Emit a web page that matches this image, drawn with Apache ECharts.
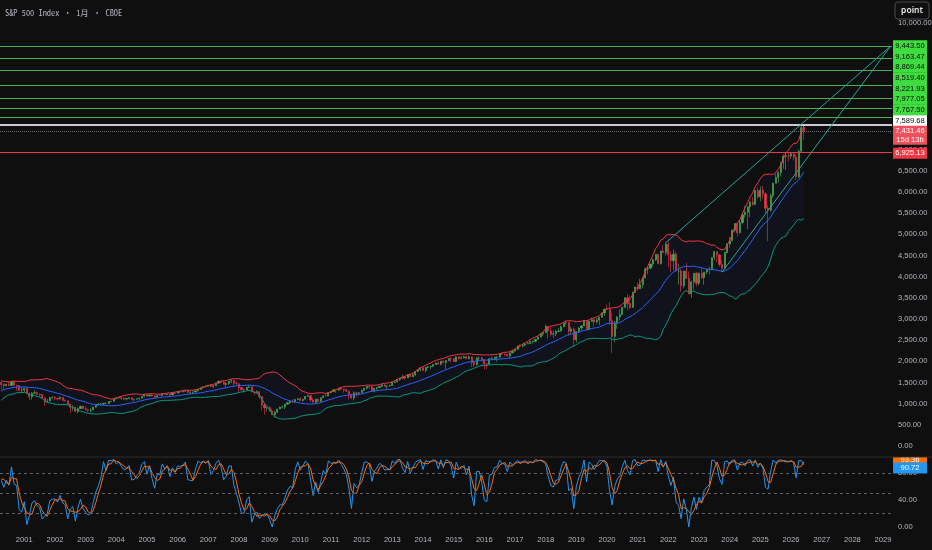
<!DOCTYPE html>
<html><head><meta charset="utf-8">
<script src="https://cdn.jsdelivr.net/npm/echarts@6/dist/echarts.min.js"></script>
<style>html,body{margin:0;padding:0;background:#0f0f0f;overflow:hidden;}#c{width:932px;height:550px;}</style>
</head><body><div id="c"></div>
<script>
// ---------- DATA (monthly OHLC, first month = startMonth) ----------
const startMonth = '1998-08';
const displayStart = '2000-04';
const axisEnd = '2029-04';

const opens = [
1121,957,1017,1099,1164,
1229,1280,1238,1286,1335,1302,1373,1329,1320,1283,1363,1389,
1469,1394,1366,1499,1452,1421,1455,1431,1518,1437,1429,1315,
1320,1366,1240,1160,1249,1256,1224,1211,1134,1041,1060,1139,
1148,1130,1107,1147,1077,1067,990,912,916,815,886,936,
880,856,841,848,917,964,975,990,1008,996,1051,1058,
1112,1131,1145,1126,1107,1121,1141,1102,1104,1115,1130,1174,
1212,1181,1204,1181,1157,1192,1191,1234,1220,1229,1207,1249,
1248,1280,1281,1295,1311,1270,1270,1277,1304,1336,1378,1401,
1418,1438,1407,1421,1482,1531,1503,1455,1474,1527,1549,1481,
1468,1379,1331,1323,1386,1400,1280,1267,1283,1166,969,896,
903,826,735,798,873,919,919,987,1021,1057,1036,1096,
1115,1074,1104,1169,1187,1089,1031,1102,1049,1141,1183,1181,
1258,1286,1327,1326,1364,1345,1321,1292,1219,1131,1253,1247,
1258,1312,1366,1408,1398,1310,1362,1379,1407,1441,1412,1416,
1426,1498,1515,1569,1598,1631,1606,1686,1633,1682,1757,1806,
1848,1783,1859,1872,1884,1924,1960,1931,2003,1972,2018,2068,
2059,1995,2105,2068,2086,2107,2063,2104,1972,1920,2079,2080,
2044,1940,1932,2060,2065,2097,2099,2174,2171,2168,2126,2199,
2239,2279,2364,2363,2384,2412,2423,2470,2472,2519,2575,2648,
2674,2824,2714,2641,2648,2705,2718,2816,2902,2914,2712,2760,
2507,2704,2784,2834,2946,2752,2942,2980,2926,2977,3038,3141,
3231,3226,2954,2585,2912,3044,3100,3271,3500,3363,3270,3622,
3756,3714,3811,3973,4181,4204,4298,4395,4523,4308,4605,4567,
4766,4516,4374,4530,4132,4132,3785,4130,3955,3586,3872,4080,
3840,4077,3970,4109,4169,4180,4450,4589,4508,4288,4194,4568,
4770,4846,5096,5254,5036,5278,5460,5522,5648,5762,5705,6032,
5882,6041,5955,5612,5569,5912,6205,6339,6460,6688,6840,6849,
6845,6900,6820,6360,6960,7520
];
const highs = [
1121,1066,1104,1193,1245,
1285,1283,1316,1362,1368,1375,1421,1353,1352,1368,1407,1473,
1478,1445,1553,1528,1481,1475,1518,1519,1531,1444,1438,1390,
1384,1376,1268,1269,1316,1287,1239,1227,1155,1110,1163,1173,
1177,1131,1173,1147,1107,1070,994,965,925,908,951,954,
935,864,895,924,966,1015,1016,1011,1040,1054,1063,1112,
1155,1159,1164,1151,1128,1146,1141,1110,1131,1142,1188,1218,
1217,1212,1229,1192,1199,1219,1246,1246,1243,1233,1271,1276,
1295,1297,1310,1318,1326,1290,1283,1306,1340,1389,1407,1431,
1441,1461,1438,1498,1535,1540,1556,1504,1538,1576,1553,1523,
1471,1396,1359,1397,1440,1404,1293,1314,1304,1168,1007,918,
944,876,833,878,930,956,996,1040,1081,1102,1114,1131,
1151,1112,1181,1220,1208,1131,1115,1130,1150,1196,1228,1263,
1303,1344,1333,1367,1371,1346,1357,1307,1230,1293,1277,1269,
1333,1378,1420,1423,1415,1363,1392,1427,1475,1470,1434,1448,
1504,1530,1570,1598,1687,1654,1699,1710,1730,1775,1814,1849,
1850,1867,1884,1897,1925,1968,1992,2005,2019,2018,2076,2093,
2072,2120,2118,2126,2135,2130,2133,2113,2021,2094,2117,2104,
2044,1962,2075,2111,2103,2120,2178,2194,2188,2170,2214,2278,
2301,2371,2401,2399,2418,2454,2484,2491,2519,2582,2657,2695,
2873,2836,2801,2718,2742,2791,2848,2917,2941,2940,2815,2800,
2708,2813,2860,2950,2955,2964,3028,3014,3022,3050,3154,3248,
3338,3394,3137,2955,3068,3233,3280,3515,3588,3550,3646,3760,
3870,3950,3983,4219,4238,4302,4430,4538,4546,4608,4743,4808,
4818,4595,4637,4593,4307,4178,4140,4325,4120,3906,4080,4101,
4095,4195,4110,4170,4231,4458,4607,4590,4541,4393,4587,4793,
4932,5111,5265,5264,5342,5524,5670,5651,5768,5879,6044,6100,
6128,6147,5987,5696,5968,6215,6427,6482,6699,6890,6920,6915,
6925.13,6915,6870,7000,7560,7589.68
];
const lows = [
940,939,923,1095,1137,
1205,1211,1226,1282,1281,1277,1328,1268,1268,1233,1343,1387,
1350,1325,1346,1339,1349,1420,1416,1431,1420,1305,1294,1254,
1275,1228,1081,1091,1232,1203,1165,1124,945,1040,1055,1114,
1081,1074,1107,1063,1048,953,776,833,815,768,872,872,
840,807,789,847,902,964,963,960,990,996,1031,1048,
1105,1124,1087,1083,1077,1114,1078,1060,1102,1091,1128,1163,
1164,1180,1171,1137,1146,1188,1183,1201,1205,1169,1202,1245,
1245,1253,1268,1280,1245,1219,1224,1261,1291,1327,1360,1385,
1403,1390,1364,1416,1476,1484,1454,1371,1439,1490,1406,1435,
1270,1317,1257,1323,1373,1272,1200,1248,1107,840,741,815,
805,735,666,784,866,888,869,979,992,1020,1029,1086,
1071,1045,1102,1165,1040,1028,1011,1040,1040,1131,1174,1181,
1257,1283,1249,1299,1312,1258,1282,1101,1114,1075,1159,1202,
1258,1312,1340,1358,1291,1267,1325,1377,1397,1403,1343,1398,
1426,1485,1501,1536,1581,1560,1605,1628,1633,1646,1747,1767,
1770,1737,1834,1815,1862,1915,1930,1905,1964,1821,2001,1973,
1988,1981,2040,2049,2068,2057,2044,1867,1872,1894,2019,1993,
1812,1810,1931,2034,2025,1992,2074,2148,2120,2114,2084,2188,
2239,2271,2322,2329,2353,2405,2407,2417,2446,2519,2557,2605,
2674,2533,2585,2553,2594,2691,2698,2803,2864,2604,2631,2346,
2444,2681,2722,2834,2750,2729,2942,2822,2891,2855,3038,3070,
3215,2855,2192,2447,2767,2966,3100,3271,3210,3234,3270,3617,
3662,3714,3723,3955,4057,4165,4234,4368,4306,4279,4560,4495,
4223,4115,4157,4125,3811,3637,3722,3954,3585,3492,3698,3764,
3794,3943,3809,4049,4048,4167,4385,4335,4238,4104,4194,4546,
4683,4846,5057,4954,5011,5234,5391,5120,5403,5674,5697,5833,
5774,5838,5505,4835,5534,5862,6201,6212,6360,6550,6520,6720,
6780,6740,6280,6330,6930,7230
];
const closes = [
957,1017,1099,1164,1229,
1280,1238,1286,1335,1302,1373,1329,1320,1283,1363,1389,1469,
1394,1366,1499,1452,1421,1455,1431,1518,1437,1429,1315,1320,
1366,1240,1160,1249,1256,1224,1211,1134,1041,1060,1139,1148,
1130,1107,1147,1077,1067,990,912,916,815,886,936,880,
856,841,848,917,964,975,990,1008,996,1051,1058,1112,
1131,1145,1126,1107,1121,1141,1102,1104,1115,1130,1174,1212,
1181,1204,1181,1157,1192,1191,1234,1220,1229,1207,1249,1248,
1280,1281,1295,1311,1270,1270,1277,1304,1336,1378,1401,1418,
1438,1407,1421,1482,1531,1503,1455,1474,1527,1549,1481,1468,
1379,1331,1323,1386,1400,1280,1267,1283,1166,969,896,903,
826,735,798,873,919,919,987,1021,1057,1036,1096,1115,
1074,1104,1169,1187,1089,1031,1102,1049,1141,1183,1181,1258,
1286,1327,1326,1364,1345,1321,1292,1219,1131,1253,1247,1258,
1312,1366,1408,1398,1310,1362,1379,1407,1441,1412,1416,1426,
1498,1515,1569,1598,1631,1606,1686,1633,1682,1757,1806,1848,
1783,1859,1872,1884,1924,1960,1931,2003,1972,2018,2068,2059,
1995,2105,2068,2086,2107,2063,2104,1972,1920,2079,2080,2044,
1940,1932,2060,2065,2097,2099,2174,2171,2168,2126,2199,2239,
2279,2364,2363,2384,2412,2423,2470,2472,2519,2575,2648,2674,
2824,2714,2641,2648,2705,2718,2816,2902,2914,2712,2760,2507,
2704,2784,2834,2946,2752,2942,2980,2926,2977,3038,3141,3231,
3226,2954,2585,2912,3044,3100,3271,3500,3363,3270,3622,3756,
3714,3811,3973,4181,4204,4298,4395,4523,4308,4605,4567,4766,
4516,4374,4530,4132,4132,3785,4130,3955,3586,3872,4080,3840,
4077,3970,4109,4169,4180,4450,4589,4508,4288,4194,4568,4770,
4846,5096,5254,5036,5278,5460,5522,5648,5762,5705,6032,5882,
6041,5955,5612,5569,5912,6205,6339,6460,6688,6840,6849,6845,
6900,6820,6360,6960,7520,7431.46
];

// levels and drawings
const greenLevels = [9443.50, 9163.47, 8869.44, 8519.40, 8221.93, 7977.05, 7767.50];
const whiteLevel = 7589.68;
const redLevel = 6925.13;
const lastPrice = 7431.46;
const countdown = '15d 13h';
const trendLines = [
  { from: ['2021-12', 4800], to: ['2029-04', 9443.50] },
  { from: ['2023-10', 4104], to: ['2029-04', 9443.50] }
];
const stochLevels = [80, 50, 20];
const stochK_last = 90.72;
const stochD_last = 93.36;
const titleText = 'S&P 500 Index • 1月 • CBOE';
const buttonText = 'point';

// ---------- LAYOUT / STYLE (not data) ----------
const AXFONT = "'Liberation Sans Narrow','Liberation Sans',Arial,sans-serif";
const AXSIZE = 7.6;
const greenLabelDy = [-0.3, -1.4, -3.2, -7.3, -9.2, -8.9, -7.0];
const whiteLabelDy = -3.9, lastLabelDy = 4, redLabelDy = 0.6;
const kLabelDy = 2.2, dLabelDy = -4.2;
const BOX_DX = 19.3;

// ---------- helpers ----------
function monthsFrom(start, n) {
  let [y, m] = start.split('-').map(Number); const out = [];
  for (let i = 0; i < n; i++) { out.push(y + '-' + String(m).padStart(2, '0')); m++; if (m > 12) { m = 1; y++; } }
  return out;
}
function monthsBetween(a, b) {
  const out = []; let [y, m] = a.split('-').map(Number); const [by, bm] = b.split('-').map(Number);
  while (y < by || (y === by && m <= bm)) { out.push(y + '-' + String(m).padStart(2, '0')); m++; if (m > 12) { m = 1; y++; } }
  return out;
}
const fmt2 = v => Number(v).toLocaleString('en-US', { minimumFractionDigits: 2, maximumFractionDigits: 2 });

const dataMonths = monthsFrom(startMonth, closes.length);
const off = dataMonths.indexOf(displayStart);
const cats = monthsBetween(displayStart, axisEnd);
const lastIdx = cats.length - 1;

// Bollinger Bands (20, 2)
const BBN = 20;
const bbUp = [], bbMid = [], bbLo = [];
for (let i = 0; i < closes.length; i++) {
  if (i < BBN - 1) { bbUp.push(null); bbMid.push(null); bbLo.push(null); continue; }
  let s = 0; for (let k = i - BBN + 1; k <= i; k++) s += closes[k];
  const mean = s / BBN; let v = 0;
  for (let k = i - BBN + 1; k <= i; k++) v += (closes[k] - mean) ** 2;
  const sd = Math.sqrt(v / BBN);
  bbMid.push(mean); bbUp.push(mean + 2 * sd); bbLo.push(mean - 2 * sd);
}
// Stochastic (14, 1, 3)
const SK = 14, SD = 3;
const kArr = [], dArr = [];
for (let i = 0; i < closes.length; i++) {
  if (i < SK - 1) { kArr.push(null); continue; }
  let hh = -Infinity, ll = Infinity;
  for (let k = i - SK + 1; k <= i; k++) { hh = Math.max(hh, highs[k]); ll = Math.min(ll, lows[k]); }
  kArr.push(hh === ll ? 50 : 100 * (closes[i] - ll) / (hh - ll));
}
for (let i = 0; i < closes.length; i++) {
  if (i < SK - 1 + SD - 1) { dArr.push(null); continue; }
  dArr.push((kArr[i] + kArr[i - 1] + kArr[i - 2]) / 3);
}

const candles = [];
for (let i = off; i < closes.length; i++) candles.push([opens[i], closes[i], lows[i], highs[i]]);
const sl = a => a.slice(off);
const upS = sl(bbUp), midS = sl(bbMid), loS = sl(bbLo);
const bandS = upS.map((u, i) => u - loS[i]);
const kS = sl(kArr), dS = sl(dArr);

// ---------- marks ----------
const levelLines = [];
greenLevels.forEach(v => levelLines.push({ yAxis: v, lineStyle: { color: '#4caf50', width: 1, type: 'solid' } }));
levelLines.push({ yAxis: whiteLevel, lineStyle: { color: '#c9cbd0', width: 2, type: 'solid' } });
levelLines.push({ yAxis: lastPrice, lineStyle: { color: '#6a6d75', width: 1, type: 'dotted' } });
levelLines.push({ yAxis: redLevel, lineStyle: { color: '#f23645', width: 1, type: 'solid' } });
trendLines.forEach(t => levelLines.push([
  { coord: [cats.indexOf(t.from[0]), t.from[1]] },
  { coord: [cats.indexOf(t.to[0]), t.to[1]], lineStyle: { color: '#26a69a', width: 1, type: 'solid' } }
]));

function box(v, text, bg, fg, dy, h) {
  return {
    coord: [lastIdx, v], symbol: 'rect', symbolSize: [34, h || 11], symbolOffset: [BOX_DX, dy],
    itemStyle: { color: bg },
    label: { show: true, position: 'inside', formatter: text, color: fg, fontSize: AXSIZE, fontFamily: AXFONT, lineHeight: 9 }
  };
}
const priceBoxes = [];
greenLevels.forEach((v, i) => priceBoxes.push(box(v, fmt2(v), '#3fdc3f', '#0a0a0a', greenLabelDy[i])));
priceBoxes.push(box(whiteLevel, fmt2(whiteLevel), '#ffffff', '#0a0a0a', whiteLabelDy));
priceBoxes.push(box(lastPrice, fmt2(lastPrice) + '\n' + countdown, '#f0505c', '#ffffff', lastLabelDy, 19));
priceBoxes.push(box(redLevel, fmt2(redLevel), '#f23645', '#ffffff', redLabelDy));

const stochBoxes = [
  box(stochD_last, fmt2(stochD_last), '#ff6d00', '#ffffff', dLabelDy, 10),
  box(stochK_last, fmt2(stochK_last), '#2196f3', '#ffffff', kLabelDy, 11)
];

const noLine = { opacity: 0 };
const chart = echarts.init(document.getElementById('c'), null, { renderer: 'canvas' });
chart.setOption({
  backgroundColor: '#0f0f0f',
  animation: false,
  title: {
    text: titleText, left: 5, top: 8.5, padding: 0,
    textStyle: { color: '#b0b3bb', fontSize: 8.4, fontWeight: 'normal', fontFamily: "'Noto Sans Mono CJK SC','Noto Sans Mono CJK JP','Liberation Mono',monospace" }
  },
  graphic: [
    { type: 'rect', silent: true, shape: { x: 892, y: 450.5, width: 40, height: 6.5 }, style: { fill: '#0f0f0f' }, z: 10 },
    { type: 'line', silent: true, shape: { x1: 0, y1: 457, x2: 932, y2: 457 }, style: { stroke: '#2e2e2e', lineWidth: 1 }, z: 11 },
    { type: 'rect', silent: true, shape: { x: 895, y: 2, width: 34, height: 17, r: 3 }, style: { fill: '#0f0f0f', stroke: '#4a4a4a', lineWidth: 1 }, z: 20 },
    { type: 'text', silent: true, x: 912, y: 10.5, style: { text: buttonText, fill: '#e6e6e6', fontSize: 8.5, fontWeight: 600, fontFamily: "'Noto Sans',sans-serif", align: 'center', verticalAlign: 'middle' }, z: 21 }
  ],
  grid: [
    { left: 0, right: 40, top: 1.3, bottom: 104, outerBoundsMode: 'none', containLabel: false },
    { left: 0, right: 40, top: 459.5, bottom: 23, outerBoundsMode: 'none', containLabel: false }
  ],
  xAxis: [
    { type: 'category', gridIndex: 0, data: cats, boundaryGap: true, axisLine: { show: false }, axisTick: { show: false }, axisLabel: { show: false }, splitLine: { show: false } },
    { type: 'category', gridIndex: 1, data: cats, boundaryGap: true, axisLine: { show: false }, axisTick: { show: false },
      axisLabel: { interval: (i, v) => v.slice(5) === '01', formatter: v => v.slice(0, 4), color: '#b2b5be', fontSize: AXSIZE, fontFamily: AXFONT, margin: 9 },
      splitLine: { show: false } }
  ],
  yAxis: [
    { type: 'value', gridIndex: 0, position: 'right', min: 0, max: 10500, interval: 500,
      axisLine: { show: false }, axisTick: { show: false }, splitLine: { show: false },
      axisLabel: { color: '#b2b5be', fontSize: AXSIZE, fontFamily: AXFONT, margin: 6, showMaxLabel: false, formatter: v => fmt2(v) } },
    { type: 'value', gridIndex: 1, position: 'right', min: 0, max: 100, interval: 40,
      axisLine: { show: false }, axisTick: { show: false }, splitLine: { show: false },
      axisLabel: { color: '#b2b5be', fontSize: AXSIZE, fontFamily: AXFONT, margin: 6, formatter: v => v > 99 ? '' : fmt2(v) } }
  ],
  series: [
    { name: 'bbBase', type: 'line', xAxisIndex: 0, yAxisIndex: 0, data: loS, stack: 'bb', symbol: 'none', lineStyle: noLine, silent: true, z: 1 },
    { name: 'bbFill', type: 'line', xAxisIndex: 0, yAxisIndex: 0, data: bandS, stack: 'bb', symbol: 'none', lineStyle: noLine, areaStyle: { color: 'rgba(41,98,255,0.07)' }, silent: true, z: 1 },
    { name: 'S&P 500', type: 'candlestick', xAxisIndex: 0, yAxisIndex: 0, data: candles, barWidth: 1.6, silent: true, z: 2,
      itemStyle: { color: '#4caf50', color0: '#f23645', borderColor: '#4caf50', borderColor0: '#f23645', borderWidth: 0.6 },
      markLine: { silent: true, symbol: ['none', 'none'], label: { show: false }, data: levelLines, animation: false } },
    { name: 'bbUpper', type: 'line', xAxisIndex: 0, yAxisIndex: 0, data: upS, symbol: 'none', lineStyle: { color: '#f23645', width: 1 }, silent: true, z: 3 },
    { name: 'bbMid', type: 'line', xAxisIndex: 0, yAxisIndex: 0, data: midS, symbol: 'none', lineStyle: { color: '#2962ff', width: 1 }, silent: true, z: 3 },
    { name: 'bbLower', type: 'line', xAxisIndex: 0, yAxisIndex: 0, data: loS, symbol: 'none', lineStyle: { color: '#089981', width: 1 }, silent: true, z: 3 },
    { name: 'priceLabels', type: 'line', xAxisIndex: 0, yAxisIndex: 0, data: [], clip: false, silent: true, z: 6,
      markPoint: { silent: true, data: priceBoxes, animation: false } },
    { name: '%K', type: 'line', xAxisIndex: 1, yAxisIndex: 1, data: kS, symbol: 'none', lineStyle: { color: '#2196f3', width: 1 }, silent: true, z: 3,
      markLine: { silent: true, symbol: ['none', 'none'], label: { show: false },
        data: stochLevels.map(v => ({ yAxis: v, lineStyle: { color: '#5d606b', width: 1, type: [3, 3] } })) } },
    { name: '%D', type: 'line', xAxisIndex: 1, yAxisIndex: 1, data: dS, symbol: 'none', lineStyle: { color: '#ff6d00', width: 1 }, silent: true, z: 3 },
    { name: 'stochLabels', type: 'line', xAxisIndex: 1, yAxisIndex: 1, data: [], clip: false, silent: true, z: 6,
      markPoint: { silent: true, data: stochBoxes, animation: false } }
  ]
});
</script>
</body></html>
